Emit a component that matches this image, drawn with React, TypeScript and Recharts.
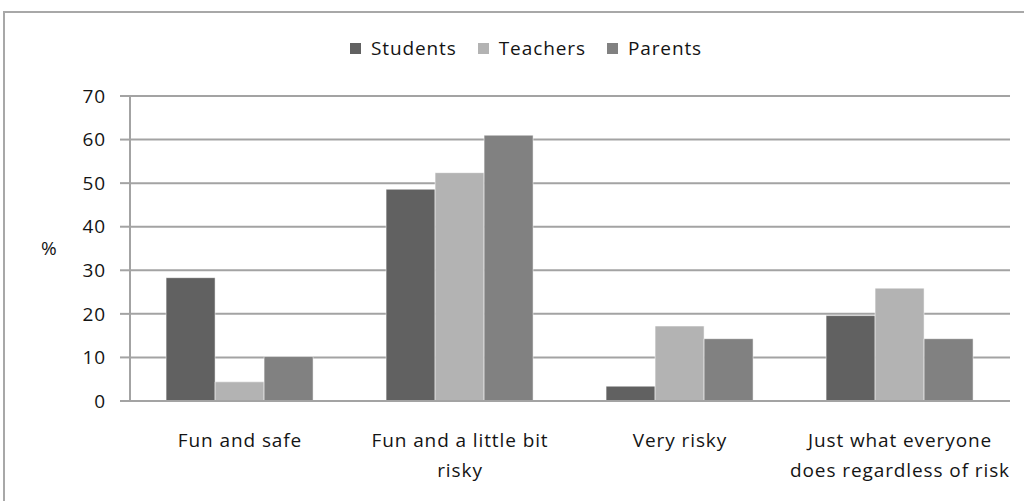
import React from "react";
import {
  BarChart,
  Bar,
  XAxis,
  YAxis,
  CartesianGrid,
  Label,
} from "recharts";

const categories = [
  "Fun and safe",
  "Fun and a little bit\nrisky",
  "Very risky",
  "Just what everyone\ndoes regardless of risk",
];
const students = [28.3, 48.6, 3.4, 19.6];
const teachers = [4.4, 52.4, 17.2, 25.9];
const parents = [10.2, 61, 14.3, 14.3];
const yTicks = [0, 10, 20, 30, 40, 50, 60, 70];

const seriesNames = ["Students", "Teachers", "Parents"];
const seriesColors = ["#616161", "#b3b3b3", "#818181"];

const data = categories.map((name, i) => ({
  name,
  Students: students[i],
  Teachers: teachers[i],
  Parents: parents[i],
}));

const FONT = "'Open Sans', sans-serif";
const TEXT = "#141414";
const GRID = "#a3a3a3";
const FS = 19;
const LS = 0.9;

const CategoryTick = (props: any) => {
  const { x, y, payload } = props;
  const lines = String(payload.value).split("\n");
  return (
    <g transform={`translate(${x},${y})`}>
      {lines.map((line: string, i: number) => (
        <text
          key={i}
          x={0}
          y={i * 30}
          dy={38}
          textAnchor="middle"
          fill={TEXT}
          fontSize={FS}
          fontFamily={FONT}
          letterSpacing={LS}
        >
          {line}
        </text>
      ))}
    </g>
  );
};

// legend drawn as a plain row above the plot
const LegendRow = () => (
  <div
    style={{
      position: "absolute",
      top: 35,
      left: 0,
      width: 1052,
      display: "flex",
      justifyContent: "center",
      gap: 21,
      fontFamily: FONT,
      fontSize: FS,
      letterSpacing: LS,
      color: TEXT,
    }}
  >
    {seriesNames.map((name, i) => (
      <div key={name} style={{ display: "flex", alignItems: "center" }}>
        <span
          style={{
            width: 11,
            height: 11,
            background: seriesColors[i],
            marginRight: 10,
            display: "inline-block",
          }}
        />
        <span>{name}</span>
      </div>
    ))}
  </div>
);

export default function App() {
  return (
    <div
      style={{
        position: "absolute",
        left: 0,
        top: 0,
        width: 1024,
        height: 501,
        overflow: "hidden",
        background: "#fff",
      }}
    >
      <div
        style={{
          position: "absolute",
          left: 3,
          top: 11,
          width: 1040,
          height: 520,
          borderTop: "2px solid #a8a8a8",
          borderLeft: "2px solid #a8a8a8",
        }}
      />
      <BarChart
        width={1024}
        height={501}
        data={data}
        margin={{ top: 96, right: 14, left: 0, bottom: 0 }}
        barCategoryGap="16.4%"
        barGap={0}
        style={{ position: "absolute", left: 0, top: 0 }}
      >
        <CartesianGrid vertical={false} stroke={GRID} strokeWidth={2} />
        <XAxis
          dataKey="name"
          height={100}
          interval={0}
          tick={<CategoryTick />}
          tickLine={false}
          axisLine={{ stroke: GRID, strokeWidth: 2 }}
        />
        <YAxis
          width={130}
          domain={[0, 70]}
          ticks={yTicks}
          interval={0}
          tickSize={10}
          tickMargin={14}
          tickLine={{ stroke: GRID, strokeWidth: 2 }}
          axisLine={{ stroke: GRID, strokeWidth: 2 }}
          tick={{ fill: TEXT, fontSize: FS, fontFamily: FONT, letterSpacing: LS }}
        >
          <Label
            value="%"
            position="insideLeft"
            offset={41}
            fill={TEXT}
            fontSize={FS}
            fontFamily={FONT}
          />
        </YAxis>
        {seriesNames.map((name, i) => (
          <Bar
            key={name}
            dataKey={name}
            fill={seriesColors[i]}
            stroke="#ffffff"
            strokeOpacity={0.5}
            isAnimationActive={false}
          />
        ))}
      </BarChart>
      <LegendRow />
    </div>
  );
}
